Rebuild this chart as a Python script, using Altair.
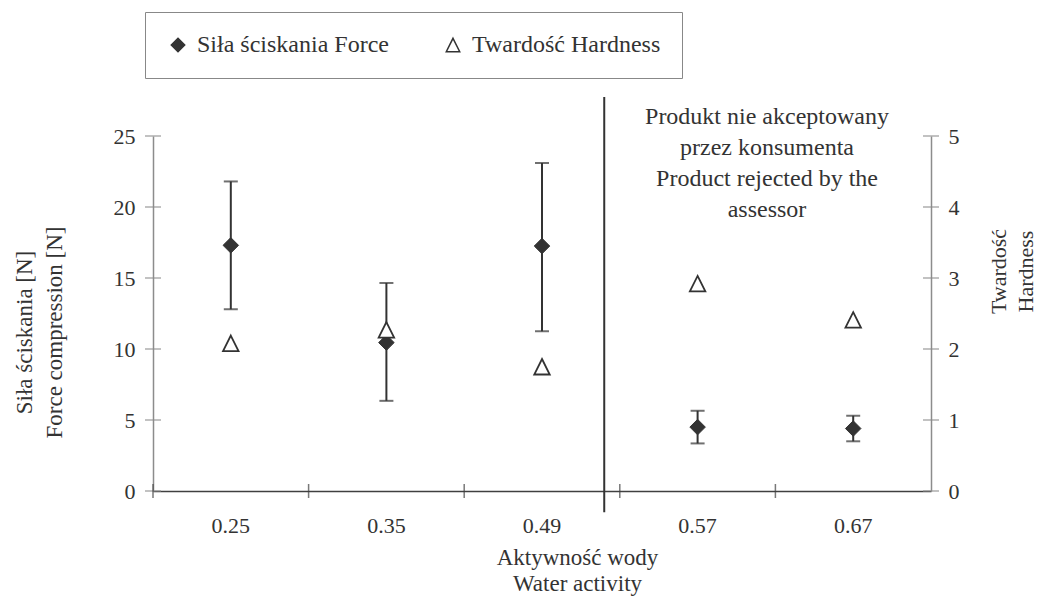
import altair as alt
import pandas as pd

# ---------------- data ----------------
aw_labels = ["0.25", "0.35", "0.49", "0.57", "0.67"]
force_mean = [17.3, 10.45, 17.25, 4.5, 4.4]
force_low = [12.8, 6.35, 11.25, 3.35, 3.5]
force_high = [21.8, 14.65, 23.1, 5.65, 5.3]
hardness = [2.08, 2.27, 1.75, 2.92, 2.41]
left_ticks = [0, 5, 10, 15, 20, 25]
right_ticks = [0, 1, 2, 3, 4, 5]
force_name = "Siła ściskania Force"
hard_name = "Twardość Hardness"
note_lines = ["Produkt nie akceptowany", "przez konsumenta", "Product rejected by the", "assessor"]
note_aw = "0.57"
note_y = 26.34
cut_aw = "0.49"
cut_top = 27.75
cut_bottom = -1.5

# ---------------- style ----------------
FONT = "Liberation Serif"
TXT = "#333333"
MARK = "#333333"
W, H = 778, 355

df_force = pd.DataFrame({"aw": aw_labels, "force": force_mean, "lo": force_low,
                         "hi": force_high, "series": force_name})
df_hard = pd.DataFrame({"aw": aw_labels, "hard": hardness, "series": hard_name})
df_lt = pd.DataFrame({"v": left_ticks})
df_rt = pd.DataFrame({"v": right_ticks})
df_xt = pd.DataFrame({"aw": aw_labels})
df_note = pd.DataFrame({"aw": [note_aw], "y": [note_y], "label": ["\n".join(note_lines)]})
df_cut = pd.DataFrame({"aw": [cut_aw], "top": [cut_top], "bottom": [cut_bottom]})

x_scale = alt.Scale(type="band", domain=aw_labels, paddingInner=0, paddingOuter=0)
x_axis = alt.Axis(
    title=["Aktywność wody", "Water activity"], titleFont=FONT, titleFontSize=23,
    titleFontWeight="normal", titleColor=TXT, titleLineHeight=26,
    titleX=424, titleY=66, titleAlign="center", titleBaseline="middle",
    labelFont=FONT, labelFontSize=22, labelColor=TXT, labelAngle=0, labelPadding=24,
    ticks=False, tickSize=0, grid=False, domainColor="#404040", domainWidth=1.5,
)

f_scale = alt.Scale(domain=[0, 25], nice=False, zero=True)
f_axis = alt.Axis(
    title=["Siła ściskania [N]", "Force compression [N]"], titleFont=FONT, titleFontSize=23,
    titleFontWeight="normal", titleColor=TXT, titleLineHeight=30, titleAngle=270,
    titleX=-129, titleY=196, titleAlign="center", titleBaseline="middle",
    labelFont=FONT, labelFontSize=22, labelColor=TXT, labelPadding=18,
    values=left_ticks, ticks=False, tickSize=0, grid=False,
    domainColor="#8c8c8c", domainWidth=1.5, orient="left",
)

h_scale = alt.Scale(domain=[0, 5], nice=False, zero=True)
h_axis = alt.Axis(
    title=["Twardość", "Hardness"], titleFont=FONT, titleFontSize=22,
    titleFontWeight="normal", titleColor=TXT, titleLineHeight=27, titleAngle=270,
    titleX=67, titleY=135, titleAlign="center", titleBaseline="middle",
    labelFont=FONT, labelFontSize=22, labelColor=TXT, labelPadding=17,
    values=right_ticks, ticks=False, tickSize=0, grid=False,
    domainColor="#8c8c8c", domainWidth=1.5, orient="right",
)

X = lambda **kw: alt.X("aw:N", scale=x_scale, axis=x_axis, **kw)

tri_path = "M0,-1L1,1L-1,1Z"
shape_scale = alt.Scale(domain=[force_name, hard_name], range=["diamond", tri_path])
fill_scale = alt.Scale(domain=[force_name, hard_name], range=[MARK, "white"])
stroke_scale = alt.Scale(domain=[force_name, hard_name], range=[MARK, MARK])
legend = alt.Legend(
    title=None, orient="none", legendX=-8, legendY=-124, direction="horizontal",
    columns=2, padding=21, strokeColor="#888888", fillColor="white",
    labelFont=FONT, labelFontSize=24, labelColor=TXT, labelLimit=400, symbolSize=180,
    symbolStrokeWidth=1.5, columnPadding=52, labelOffset=7,
)

# ---------------- force layers ----------------
err = alt.Chart(df_force).mark_rule(color=MARK, strokeWidth=2).encode(
    x=X(), y=alt.Y("lo:Q", scale=f_scale, axis=f_axis), y2="hi:Q")
cap_lo = alt.Chart(df_force).mark_tick(orient="horizontal", size=14, thickness=2, color=MARK).encode(
    x=X(), y=alt.Y("lo:Q", scale=f_scale, axis=f_axis))
cap_hi = alt.Chart(df_force).mark_tick(orient="horizontal", size=14, thickness=2, color=MARK).encode(
    x=X(), y=alt.Y("hi:Q", scale=f_scale, axis=f_axis))
diam = alt.Chart(df_force).mark_point(size=240, opacity=1, strokeWidth=1).encode(
    x=X(), y=alt.Y("force:Q", scale=f_scale, axis=f_axis),
    shape=alt.Shape("series:N", scale=shape_scale, legend=legend),
    fill=alt.Fill("series:N", scale=fill_scale, legend=legend),
    stroke=alt.Stroke("series:N", scale=stroke_scale, legend=legend))
cut = alt.Chart(df_cut).mark_rule(color=MARK, strokeWidth=2).encode(
    x=X(bandPosition=0.9), y=alt.Y("top:Q", scale=f_scale, axis=f_axis), y2="bottom:Q")
note = alt.Chart(df_note).mark_text(font=FONT, fontSize=24, color=TXT, lineHeight=31,
                                    align="center", baseline="middle", lineBreak="\n").encode(
    x=X(bandPosition=0.946), y=alt.Y("y:Q", scale=f_scale, axis=f_axis), text="label:N")
lt = alt.Chart(df_lt).mark_tick(orient="horizontal", size=16, thickness=1.5, color="#8c8c8c").encode(
    x=alt.value(0), y=alt.Y("v:Q", scale=f_scale, axis=f_axis))
xt = alt.Chart(df_xt).mark_tick(orient="vertical", size=14, thickness=1.5, color="#404040").encode(
    x=X(bandPosition=0), y=alt.value(H))

force_group = alt.layer(cut, err, cap_lo, cap_hi, diam, note, lt, xt)

# ---------------- hardness layers ----------------
tri = alt.Chart(df_hard).mark_point(size=240, opacity=1, strokeWidth=1.8).encode(
    x=X(), y=alt.Y("hard:Q", scale=h_scale, axis=h_axis),
    shape=alt.Shape("series:N", scale=shape_scale, legend=legend),
    fill=alt.Fill("series:N", scale=fill_scale, legend=legend),
    stroke=alt.Stroke("series:N", scale=stroke_scale, legend=legend))
rt = alt.Chart(df_rt).mark_tick(orient="horizontal", size=16, thickness=1.5, color="#8c8c8c").encode(
    x=alt.value(W), y=alt.Y("v:Q", scale=h_scale, axis=h_axis))

hard_group = alt.layer(tri, rt)

chart = alt.layer(force_group, hard_group).resolve_scale(y="independent").properties(
    width=W, height=H,
    autosize=alt.AutoSizeParams(type="none"),
    padding={"left": 145, "top": 128, "right": 107, "bottom": 105},
).configure(background="white", view=alt.ViewConfig(stroke=None))

chart.save("out.html", embed_options={"renderer": "svg", "actions": False})
